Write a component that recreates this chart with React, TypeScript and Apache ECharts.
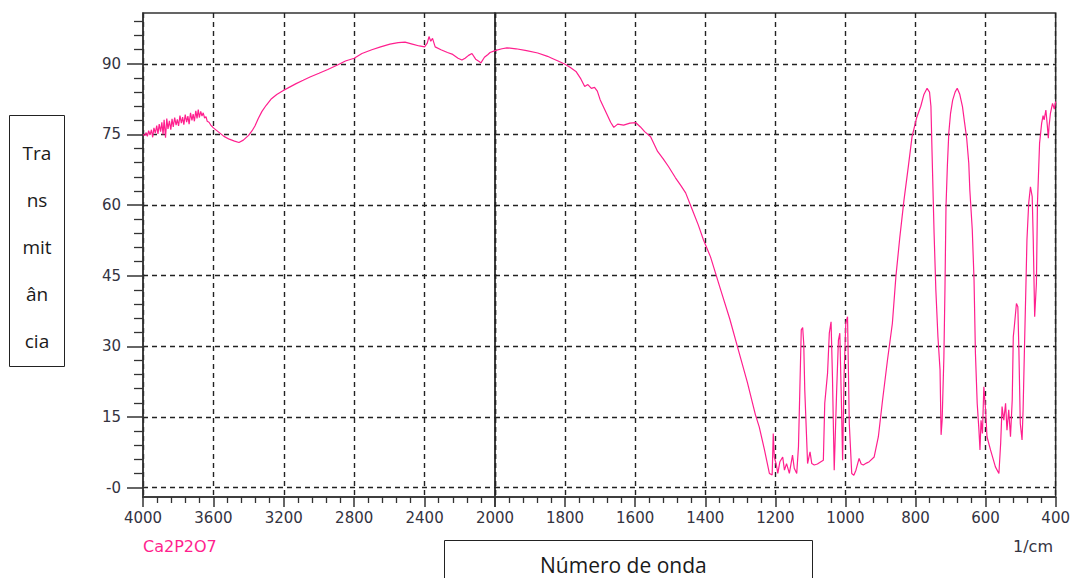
import React, { useEffect, useRef } from 'react';
import * as echarts from 'echarts';

// Wavenumber (1/cm), descending, and transmittance (%)
const wavenumbers = [
  4000, 3990, 3982, 3975, 3968, 3960, 3952, 3945, 3938, 3930, 3922, 3915, 3908, 3900, 3893, 3886, 3880, 3872, 3865,
  3858, 3850, 3842, 3835, 3828, 3820, 3812, 3805, 3798, 3790, 3782, 3775, 3768, 3760, 3752, 3745, 3738, 3730, 3722,
  3715, 3708, 3700, 3693, 3686, 3680, 3672, 3665, 3658, 3650, 3642, 3635, 3625, 3615, 3600, 3570, 3540, 3510, 3480,
  3455, 3430, 3400, 3380, 3364, 3345, 3324, 3300, 3270, 3240, 3205, 3170, 3130, 3090, 3051, 3000, 2950, 2892, 2850,
  2800, 2756, 2700, 2650, 2597, 2550, 2511, 2470, 2430, 2400, 2385, 2375, 2365, 2355, 2340, 2307, 2270, 2240, 2210,
  2188, 2170, 2150, 2131, 2110, 2090, 2080, 2060, 2040, 2028, 2000,
  1980, 1966, 1940, 1910, 1878, 1850, 1838, 1820, 1800, 1785, 1769, 1755, 1744, 1735, 1725, 1716, 1708, 1700, 1690,
  1680, 1670, 1661, 1650, 1633, 1615, 1598, 1585, 1573, 1556, 1536, 1520, 1505, 1485, 1470, 1456, 1437, 1420, 1405,
  1385, 1356, 1330, 1308, 1280, 1257, 1246, 1231, 1217, 1209, 1206, 1203, 1197, 1193, 1187, 1179, 1174, 1168, 1160,
  1151, 1146, 1139, 1134, 1130, 1126, 1122, 1119, 1116, 1108, 1101, 1096, 1089, 1080, 1070, 1063, 1059, 1051, 1046,
  1041, 1037, 1032, 1025, 1020, 1016, 1012, 1008, 1004, 999, 994, 989, 982, 976, 970, 961, 955, 949, 940, 932, 918,
  906, 894, 880, 866, 856, 845, 833, 820, 810, 797, 785, 776, 767, 760, 756, 753, 747, 742, 736, 730, 727, 724, 719,
  716, 713, 709, 705, 700, 694, 687, 681, 674, 666, 660, 654, 648, 645, 638, 633, 629, 624, 619, 616, 613, 609, 605,
  600, 596, 586, 572, 562, 557, 553, 548, 543, 539, 534, 529, 524, 521, 518, 512, 508, 505, 501, 496, 493, 489, 485,
  482, 477, 472, 467, 464, 460, 455, 452, 446, 440, 436, 433, 428, 424, 421, 419, 415, 409, 404, 400,
];
const transmittance = [
  75.0, 74.8, 75.4, 74.6, 75.8, 74.9, 76.0, 74.4, 76.4, 75.3, 76.9, 75.1, 77.2, 75.6, 77.6, 75.0, 78.1, 74.3, 78.4,
  76.2, 77.9, 76.0, 78.3, 76.6, 78.6, 77.0, 78.2, 76.8, 79.0, 77.4, 78.7, 77.1, 79.2, 77.6, 78.9, 77.2, 79.6, 78.0,
  79.3, 77.8, 80.0, 78.4, 80.3, 78.6, 79.9, 78.9, 79.6, 78.5, 78.8, 77.8, 77.6, 77.0, 76.4, 75.5, 74.6, 74.0, 73.6,
  73.3, 73.8, 74.8, 75.8, 76.8, 78.4, 79.9, 81.2, 82.6, 83.5, 84.3, 85.0, 85.8, 86.5, 87.2, 88.0, 88.8, 89.8, 90.6,
  91.2, 92.2, 93.0, 93.6, 94.2, 94.5, 94.6, 94.2, 93.8, 93.6, 94.4, 95.8, 94.8, 95.4, 93.6, 93.0, 92.4, 92.0, 91.2,
  90.8, 91.2, 91.8, 92.2, 91.0, 90.5, 90.2, 91.4, 92.0, 92.4, 92.8,
  93.2, 93.4, 93.2, 92.8, 92.3, 91.6, 91.2, 90.6, 89.9, 89.2, 88.4, 86.8, 85.2, 85.6, 84.8, 85.0, 84.2, 82.4, 80.8,
  79.2, 77.6, 76.5, 77.2, 77.0, 77.4, 77.5, 76.6, 75.6, 74.5, 71.4, 69.8, 68.2, 65.8, 64.2, 62.6, 59.0, 55.8, 52.6,
  49.0, 42.0, 35.8, 29.9, 22.4, 15.5, 12.9, 8.0, 3.0, 2.7, 11.5, 6.5, 4.8, 3.0, 5.5, 6.5, 3.7, 5.1, 3.0,
  6.9, 4.1, 3.0, 8.7, 21.1, 33.5, 34.0, 30.6, 20.7, 5.1, 7.6, 5.1, 4.8, 5.0, 5.5, 5.8, 17.9, 24.3, 32.8,
  35.2, 23.5, 3.7, 20.7, 31.3, 32.8, 20.0, 5.8, 23.5, 34.9, 36.3, 13.6, 3.0, 2.6, 3.7, 6.2, 5.0, 4.8, 5.2, 5.5, 6.5,
  10.8, 18.6, 27.1, 34.9, 44.8, 53.0, 61.0, 68.5, 74.5, 78.5, 81.0, 83.5, 84.8, 84.0, 81.0, 71.7, 54.0, 42.0, 32.0, 25.0, 11.2, 14.3, 27.8,
  42.0, 59.7, 68.5, 75.3, 79.5, 82.3, 84.0, 84.8, 83.6, 80.9, 77.5, 74.2, 68.9, 63.2, 54.7, 44.1, 28.5, 17.9, 12.2, 8.0, 14.3, 11.5, 21.4,
  16.5, 10.8, 8.0, 4.4, 3.0, 9.4, 17.2, 14.3, 17.9, 12.2, 16.5, 10.8, 18.6, 32.0, 34.2, 39.1, 38.4, 29.2, 13.6, 10.1, 16.5, 29.9, 42.7,
  52.6, 60.4, 63.9, 61.8, 52.6, 36.3, 43.4, 60.4, 73.1, 77.4, 79.0, 78.1, 80.2, 77.0, 74.2, 76.7, 79.5, 81.6, 80.4, 82.0,
];

const yMajorTicks = [0, 15, 30, 45, 60, 75, 90];
const yMinorTicks = [3, 6, 9, 12, 18, 21, 24, 27, 33, 36, 39, 42, 48, 51, 54, 57, 63, 66, 69, 72, 78, 81, 84, 87, 93, 96, 99];
const yRange = [-2, 100.8];
const xLeftRange = [2000, 4000];
const xRightRange = [400, 2000];
const seriesName = 'Ca2P2O7';
const yTitle = 'Tra\nns\nmit\nân\ncia';
const xTitle = 'Número de onda';
const xUnit = '1/cm';

const axisColor = '#333';
const labelColor = '#33333f';
const curveColor = '#ff1f8e';
const tickFont = 'DejaVu Sans';

export default function App() {
  const ref = useRef<HTMLDivElement>(null);

  useEffect(() => {
    const chart = echarts.init(ref.current!, null, { renderer: 'svg' });
    const pairs = wavenumbers.map((w, i) => [w, transmittance[i]]);
    const leftData = pairs.filter((p) => p[0] >= 2000);
    const rightData = pairs.filter((p) => p[0] <= 2000);

    const dash = { type: [5, 4] as any, color: '#222', width: 1.4 };
    const xCommon = {
      type: 'value' as const,
      position: 'bottom' as const,
      inverse: true,
      axisLine: { show: true, onZero: false, lineStyle: { color: axisColor, width: 1.5 } },
      axisTick: { show: true, length: 10, lineStyle: { color: axisColor, width: 1.5 } },
      minorTick: { show: true, splitNumber: 5, length: 6, lineStyle: { color: axisColor, width: 1.3 } },
      splitLine: { show: true, lineStyle: dash },
    };
    const labelStyle = { fontSize: 15, fontFamily: tickFont, color: labelColor };

    const option: any = {
      animation: false,
      backgroundColor: '#ffffff',
      grid: [
        { left: 143, top: 13, width: 352, height: 484, show: true, borderColor: axisColor, borderWidth: 1.5, backgroundColor: 'transparent' },
        { left: 495, top: 13, width: 562, height: 484, show: true, borderColor: axisColor, borderWidth: 1.5, backgroundColor: 'transparent' },
      ],
      xAxis: [
        {
          ...xCommon,
          gridIndex: 0,
          min: xLeftRange[0],
          max: xLeftRange[1],
          interval: 400,
          axisLabel: { ...labelStyle, margin: 13, formatter: (v: number) => String(v) },
        },
        {
          ...xCommon,
          gridIndex: 1,
          min: xRightRange[0],
          max: xRightRange[1],
          interval: 200,
          axisLabel: { ...labelStyle, margin: 13, formatter: (v: number) => (v === 2000 ? '' : String(v)) },
        },
      ],
      yAxis: [
        {
          gridIndex: 0,
          type: 'value',
          position: 'left',
          min: yRange[0],
          max: yRange[1],
          axisLine: { show: true, onZero: false, lineStyle: { color: axisColor, width: 1.5 } },
          axisTick: { show: true, length: 16, customValues: yMajorTicks, lineStyle: { color: axisColor, width: 1.5 } },
          axisLabel: {
            ...labelStyle,
            margin: 22,
            customValues: yMajorTicks,
            formatter: (v: number) => (v === 0 ? '-0' : String(v)),
          },
          splitLine: { show: true, lineStyle: dash },
        },
        {
          gridIndex: 0,
          type: 'value',
          position: 'left',
          offset: 0,
          min: yRange[0],
          max: yRange[1],
          axisLine: { show: false, onZero: false },
          axisTick: { show: true, length: 9, customValues: yMinorTicks, lineStyle: { color: axisColor, width: 1.3 } },
          axisLabel: { show: false },
          splitLine: { show: false },
        },
        {
          gridIndex: 1,
          type: 'value',
          position: 'left',
          min: yRange[0],
          max: yRange[1],
          axisLine: { show: false, onZero: false },
          axisTick: { show: false, customValues: yMajorTicks },
          axisLabel: { show: false, customValues: yMajorTicks },
          splitLine: { show: true, lineStyle: dash },
        },
      ],
      series: [
        {
          type: 'line',
          name: seriesName,
          xAxisIndex: 0,
          yAxisIndex: 0,
          data: leftData,
          showSymbol: false,
          clip: true,
          lineStyle: { color: curveColor, width: 1.2 },
          z: 5,
        },
        {
          type: 'line',
          name: seriesName,
          xAxisIndex: 1,
          yAxisIndex: 2,
          data: rightData,
          showSymbol: false,
          clip: true,
          lineStyle: { color: curveColor, width: 1.2 },
          z: 5,
        },
      ],
      graphic: [
        {
          type: 'rect',
          shape: { x: 9.5, y: 115.5, width: 55, height: 251 },
          style: { fill: '#fff', stroke: '#222', lineWidth: 1 },
        },
        {
          type: 'text',
          x: 37,
          y: 247,
          style: {
            text: yTitle,
            fontFamily: 'Open Sans',
            fontSize: 19,
            lineHeight: 47,
            fill: '#1a1a1a',
            align: 'center',
            verticalAlign: 'middle',
          },
        },
        {
          type: 'rect',
          shape: { x: 444.5, y: 540.5, width: 368, height: 60 },
          style: { fill: '#fff', stroke: '#222', lineWidth: 1 },
        },
        {
          type: 'text',
          x: 540,
          y: 565,
          style: {
            text: xTitle,
            fontFamily: 'Open Sans',
            fontSize: 21,
            lineHeight: 22,
            fill: '#1a1a1a',
            align: 'left',
            verticalAlign: 'middle',
          },
        },
        {
          type: 'text',
          x: 143,
          y: 546,
          style: { text: seriesName, fontFamily: tickFont, fontSize: 16, fill: curveColor, align: 'left', verticalAlign: 'middle' },
        },
        {
          type: 'text',
          x: 1053,
          y: 546,
          style: { text: xUnit, fontFamily: tickFont, fontSize: 16, fill: labelColor, align: 'right', verticalAlign: 'middle' },
        },
      ],
    };

    chart.setOption(option);
    return () => chart.dispose();
  }, []);

  return (
    <div
      ref={ref}
      style={{ position: 'fixed', left: 0, top: 0, width: 1073, height: 578, background: '#fff' }}
    />
  );
}
